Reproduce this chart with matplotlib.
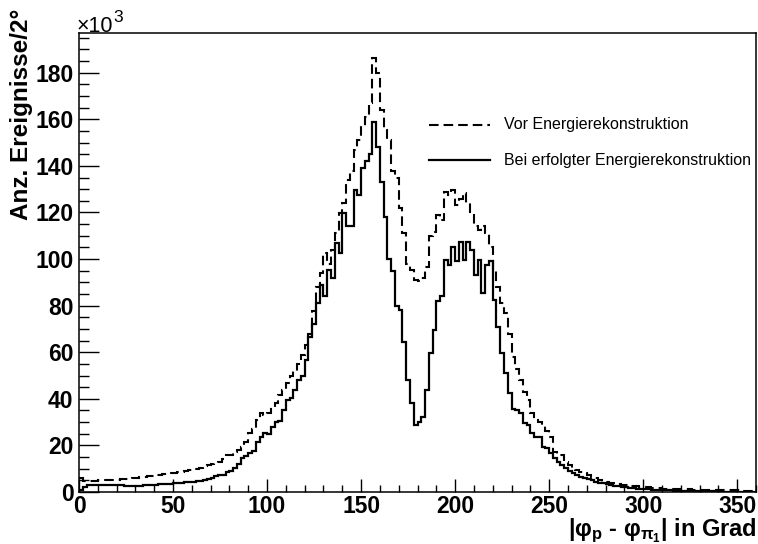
import matplotlib
matplotlib.use("Agg")
import matplotlib.pyplot as plt
import numpy as np
from matplotlib.ticker import MultipleLocator

plt.rcParams["font.family"] = ["Liberation Sans", "DejaVu Sans"]
plt.rcParams["mathtext.fontset"] = "custom"
plt.rcParams["mathtext.rm"] = "Liberation Sans:bold"
plt.rcParams["mathtext.it"] = "Liberation Sans:bold"
plt.rcParams["mathtext.bf"] = "Liberation Sans:bold"

# 2 degree bins, counts in units of 10^3
edges = np.arange(0, 362, 2)

# before energy reconstruction (dashed)
vor = [
    6.0, 4.8, 4.8, 4.9, 4.9, 5.0, 5.0, 5.1, 5.1, 5.2,
    5.3, 5.4, 5.6, 5.7, 5.9, 6.1, 6.3, 6.5, 6.7, 6.9,
    7.2, 7.4, 7.6, 7.8, 8.0, 8.3, 8.6, 8.8, 9.1, 9.4,
    9.7, 10.0, 10.4, 11.2, 11.5, 12.0, 12.5, 13.0, 14.0, 15.9,
    16.0, 17.0, 18.0, 19.5, 21.5, 25.3, 27.0, 31.0, 34.0, 33.0,
    34.0, 36.6, 38.0, 41.7, 44.0, 46.8, 50.0, 52.0, 55.0, 58.8,
    63.0, 68.0, 77.5, 88.0, 94.0, 102.6, 98.0, 104.0, 111.0, 119.8,
    124.0, 134.0, 138.0, 147.0, 151.0, 157.0, 161.0, 167.0, 186.5, 180.0,
    164.0, 155.5, 151.0, 137.6, 135.0, 122.0, 111.0, 98.0, 95.4, 91.0,
    90.5, 92.0, 96.8, 109.7, 111.8, 119.0, 116.8, 129.0, 127.6, 129.7,
    123.0, 126.0, 128.4, 124.0, 120.0, 114.0, 112.5, 114.0, 111.0, 105.0,
    95.4, 88.0, 81.0, 77.0, 68.0, 58.0, 53.0, 48.0, 43.0, 39.5,
    34.0, 31.0, 30.0, 28.8, 26.0, 23.8, 17.3, 16.5, 15.9, 13.0,
    11.5, 10.5, 9.5, 8.8, 8.0, 7.3, 6.6, 5.8, 5.0, 4.4,
    4.2, 4.0, 3.7, 3.4, 3.0, 2.8, 2.6, 2.5, 2.4, 2.3,
    2.1, 2.0, 1.8, 1.7, 1.6, 1.5, 1.4, 1.35, 1.3, 1.25,
    1.2, 1.15, 1.1, 1.05, 1.0, 0.95, 0.9, 0.88, 0.85, 0.8,
    0.78, 0.75, 0.72, 0.7, 0.68, 0.65, 0.62, 0.6, 0.58, 0.55,
]

# with successful energy reconstruction (solid)
bei = [
    1.0, 2.0, 2.8, 3.0, 3.1, 3.1, 3.0, 3.0, 2.9, 2.9,
    2.8, 2.8, 2.7, 2.7, 2.7, 2.6, 2.7, 2.8, 2.9, 3.0,
    3.2, 3.3, 3.4, 3.5, 3.6, 3.7, 3.8, 4.0, 4.1, 4.3,
    4.5, 4.7, 4.9, 5.2, 5.5, 5.9, 7.0, 7.2, 7.5, 8.4,
    9.2, 10.2, 12.0, 14.5, 15.5, 16.7, 17.5, 21.5, 23.8, 25.3,
    24.8, 28.0, 30.2, 30.5, 35.2, 39.5, 40.5, 43.8, 48.0, 50.0,
    56.7, 66.7, 72.0, 81.0, 89.0, 84.0, 95.4, 92.0, 107.0, 102.6,
    119.8, 114.0, 114.0, 129.7, 127.6, 139.0, 142.0, 145.0, 159.0, 148.0,
    133.0, 118.0, 100.0, 95.0, 80.0, 78.0, 64.6, 48.0, 38.0, 28.8,
    30.2, 32.4, 43.8, 59.6, 69.6, 81.8, 84.0, 99.7, 97.5, 105.0,
    99.0, 107.5, 99.7, 107.5, 104.0, 93.0, 99.7, 85.5, 97.5, 99.0,
    82.5, 71.0, 59.7, 51.0, 42.5, 35.5, 35.0, 33.9, 29.6, 28.8,
    25.3, 23.8, 23.6, 19.5, 19.0, 16.7, 14.6, 12.8, 11.6, 10.2,
    8.9, 8.2, 7.3, 6.6, 6.0, 5.4, 5.0, 4.4, 4.0, 3.7,
    3.3, 3.0, 2.7, 2.5, 2.2, 2.0, 1.9, 1.7, 1.5, 1.3,
    1.2, 1.1, 1.0, 0.9, 0.85, 0.8, 0.7, 0.65, 0.6, 0.55,
    0.5, 0.45, 0.42, 0.4, 0.35, 0.32, 0.3, 0.28, 0.25, 0.22,
    0.2, 0.2, 0.18, 0.16, 0.15, 0.14, 0.12, 0.12, 0.1, 0.1,
]

W, H = 758, 544
fig = plt.figure(figsize=(W / 100, H / 100), dpi=100)
fig.patch.set_facecolor("white")
ax = fig.add_axes([79 / W, 1 - 492 / H, 677 / W, 459 / H])


def fx(x, y):
    return x / W, 1 - y / H


dash = (0, (4.6, 2.4))
ax.stairs(vor, edges, baseline=None, color="black", lw=1.5, linestyle=dash)
ax.stairs(bei, edges, baseline=None, color="black", lw=1.6)

ax.set_xlim(0, 360)
ax.set_ylim(0, 197.05)
ax.xaxis.set_major_locator(MultipleLocator(50))
ax.xaxis.set_minor_locator(MultipleLocator(10))
ax.yaxis.set_major_locator(MultipleLocator(20))
ax.yaxis.set_minor_locator(MultipleLocator(5))
ax.tick_params(axis="both", which="both", direction="in", top=False, right=False, width=1)
ax.tick_params(axis="x", which="major", length=9.5, pad=2)
ax.tick_params(axis="x", which="minor", length=5)
ax.tick_params(axis="y", which="major", length=14.5, pad=4)
ax.tick_params(axis="y", which="minor", length=7.2)
for lab in ax.get_xticklabels() + ax.get_yticklabels():
    lab.set_fontsize(16.5)
    lab.set_fontweight("bold")
for sp in ax.spines.values():
    sp.set_linewidth(1.1)

# multiplier
fig.text(*fx(77, 32), "×10", fontsize=15.5, ha="left", va="baseline")
fig.text(*fx(113, 22), "3", fontsize=12.5, ha="left", va="baseline")

# axis titles
fig.text(*fx(757, 531), r"$|\varphi_{p}$ - $\varphi_{\pi_{1}}|$ in Grad", fontsize=17,
         fontweight="bold", ha="right", va="center")
fig.text(*fx(22, 9), "Anz. Ereignisse/2°", fontsize=17.5, fontweight="bold",
         rotation=90, ha="center", va="top")

# legend
fig.add_artist(plt.Line2D([429 / W, 490 / W], [1 - 125 / H] * 2, color="black", lw=1.5,
                          linestyle=dash))
fig.add_artist(plt.Line2D([429 / W, 490 / W], [1 - 160 / H] * 2, color="black", lw=1.6))
fig.text(*fx(504, 125), "Vor Energierekonstruktion", fontsize=11.5, ha="left", va="center")
fig.text(*fx(504, 161), "Bei erfolgter Energierekonstruktion", fontsize=11.5, ha="left", va="center")

fig.savefig("out.png", dpi=100, facecolor="white")
